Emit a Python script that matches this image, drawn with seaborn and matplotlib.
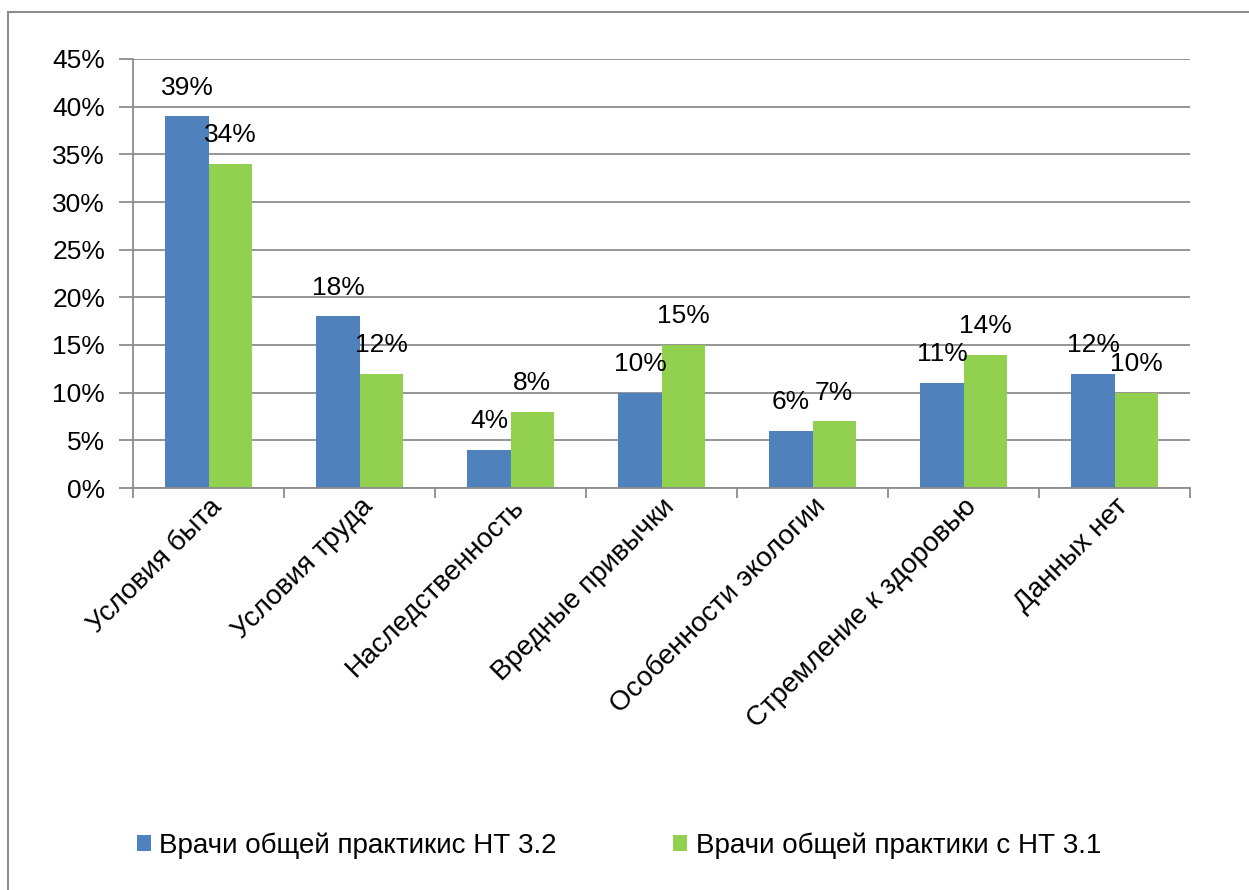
import matplotlib
matplotlib.use("Agg")
import matplotlib.pyplot as plt
import seaborn as sns
import pandas as pd
from matplotlib.patches import Rectangle
from matplotlib.ticker import PercentFormatter, FixedLocator

categories = ["Условия быта", "Условия труда", "Наследственность", "Вредные привычки",
              "Особенности экологии", "Стремление к здоровью", "Данных нет"]
series_names = ["Врачи общей практикис НТ 3.2", "Врачи общей практики с НТ 3.1"]
values_a = [39, 18, 4, 10, 6, 11, 12]
values_b = [34, 12, 8, 15, 7, 14, 10]
colors = ["#4F81BD", "#92D050"]

sns.set_theme(style="white")
plt.rcParams['font.family'] = ['Liberation Sans Narrow', 'Liberation Sans', 'DejaVu Sans']

df = pd.DataFrame({
    "cat": categories * 2,
    "val": values_a + values_b,
    "series": [series_names[0]] * 7 + [series_names[1]] * 7,
})

fig = plt.figure(figsize=(12.49, 8.9), dpi=100)
ax = fig.add_axes([133/1249, 1-488/890, (1190-133)/1249, (488-59)/890])

sns.barplot(data=df, x="cat", y="val", hue="series", palette=colors, ax=ax,
            width=0.57, saturation=1, dodge=True, legend=True, edgecolor="none")

ax.set_ylim(0, 45)
ax.set_xlim(-0.5, len(categories) - 0.5)
ax.yaxis.set_major_locator(FixedLocator(range(0, 46, 5)))
ax.yaxis.set_major_formatter(PercentFormatter(decimals=0))
ax.grid(axis="y", color="#8C8C8C", linewidth=1.3)
ax.set_axisbelow(True)
for s in ["top", "right"]:
    ax.spines[s].set_visible(False)
ax.spines["left"].set_color("#8C8C8C")
ax.spines["left"].set_linewidth(1.3)
ax.spines["bottom"].set_color("#8C8C8C")
ax.spines["bottom"].set_linewidth(1.3)
ax.set_xlabel("")
ax.set_ylabel("")

ax.set_xticks([i + 0.5 for i in range(-1, len(categories))], minor=True)
ax.tick_params(axis="x", which="minor", length=7, width=1.3, color="#8C8C8C", direction="out", bottom=True)
ax.tick_params(axis="x", which="major", length=0, labelsize=20, pad=4, labelcolor="black")
ax.tick_params(axis="y", which="major", length=10, width=1.3, color="#8C8C8C", direction="out", left=True,
               labelsize=19, pad=10, labelcolor="black")
ax.set_xticks(range(len(categories)))
ax.set_xticklabels(categories, rotation=45, ha="right", rotation_mode="anchor")

for cont in ax.containers:
    ax.bar_label(cont, labels=[f"{int(v)}%" for v in cont.datavalues], padding=12, fontsize=19, color="black")

leg = ax.legend(loc="center left", bbox_to_anchor=(112/1249, 1-846/890), bbox_transform=fig.transFigure,
                ncol=2, frameon=False, fontsize=20, handlelength=0.5, handleheight=0.5,
                handletextpad=0.3, columnspacing=4.2)
for t in leg.get_texts():
    t.set_color("black")

fig.patches.append(Rectangle((8/1249, -0.1), 1.2, 1 - 12/890 + 0.1, transform=fig.transFigure,
                             fill=False, edgecolor="#8C8C8C", linewidth=1.5))

fig.savefig("out.png", dpi=100)
